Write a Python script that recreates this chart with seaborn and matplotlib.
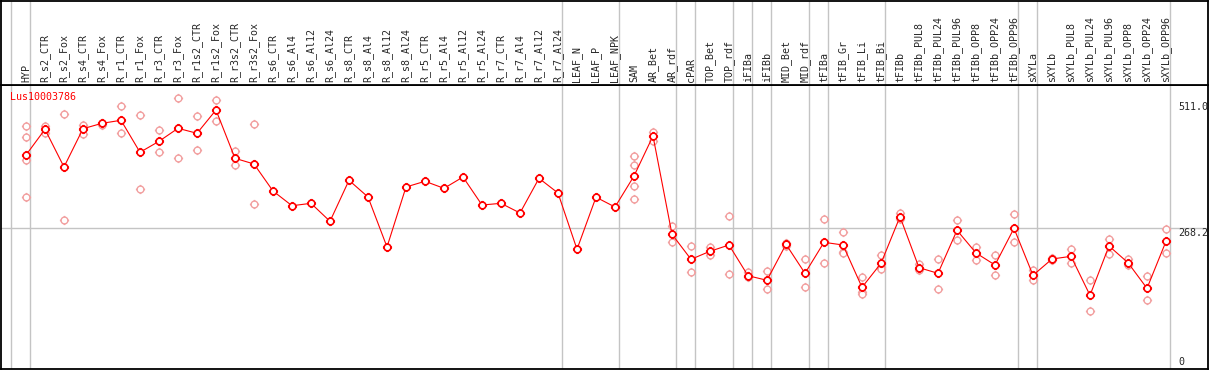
import numpy as np
import pandas as pd
import seaborn as sns
import matplotlib
matplotlib.use("Agg")
import matplotlib.pyplot as plt
from matplotlib.path import Path

gene = "Lus10003786"

categories = ["HYP", "R_s2_CTR", "R_s2_Fox", "R_s4_CTR", "R_s4_Fox", "R_r1_CTR", "R_r1_Fox",
              "R_r3_CTR", "R_r3_Fox", "R_r1s2_CTR", "R_r1s2_Fox", "R_r3s2_CTR", "R_r3s2_Fox",
              "R_s6_CTR", "R_s6_Al4", "R_s6_Al12", "R_s6_Al24", "R_s8_CTR", "R_s8_Al4",
              "R_s8_Al12", "R_s8_Al24", "R_r5_CTR", "R_r5_Al4", "R_r5_Al12", "R_r5_Al24",
              "R_r7_CTR", "R_r7_Al4", "R_r7_Al12", "R_r7_Al24", "LEAF_N", "LEAF_P", "LEAF_NPK",
              "SAM", "AR_Bet", "AR_rdf", "cPAR", "TOP_Bet", "TOP_rdf", "iFIBa", "iFIBb",
              "MID_Bet", "MID_rdf", "tFIBa", "tFIB_Gr", "tFIB_Li", "tFIB_Bi", "tFIBb",
              "tFIBb_PUL8", "tFIBb_PUL24", "tFIBb_PUL96", "tFIBb_OPP8", "tFIBb_OPP24",
              "tFIBb_OPP96", "sXYLa", "sXYLb", "sXYLb_PUL8", "sXYLb_PUL24", "sXYLb_PUL96",
              "sXYLb_OPP8", "sXYLb_OPP24", "sXYLb_OPP96"]

# sizes of the tissue groups (separated by grey lines)
group_sizes = [1, 28, 3, 3, 1, 2, 1, 1, 2, 1, 3, 7, 1, 7]

means = [415.2, 466.8, 391.2, 468.0, 478.8, 484.9, 420.7, 442.7, 468.8, 458.8, 505.5, 408.6, 397.2,
         343.0, 313.5, 318.3, 282.2, 364.5, 331.0, 230.7, 351.1, 362.5, 348.4, 371.1, 314.9,
         318.3, 298.9, 368.5, 339.0, 226.1, 330.6, 310.9,
         373.1, 453.4, 256.2, 206.0, 222.1, 234.7, 173.1, 163.9, 236.1, 177.9, 240.1,
         234.7, 149.8, 198.0, 291.5, 189.2, 177.9, 264.2, 218.7, 194.6, 268.2,
         173.9, 206.6, 212.0, 133.8, 232.7, 199.2, 147.8, 242.1]

replicates = [
    [473.4, 451.4, 404.6, 331.0], [473.4, 460.2], [496.9, 284.3], [476.0, 458.0], [480.0, 475.4],
    [513.5, 459.4], [494.9, 346.4], [464.8, 420.7], [529.0, 408.6], [492.9, 425.3],
    [525.6, 482.8], [423.3, 394.6], [476.8, 316.3],
    [], [], [], [], [], [], [], [], [], [], [], [], [], [], [], [], [], [], [],
    [413.2, 394.6, 353.7, 327.6], [461.4, 443.9], [272.8, 240.1], [232.7, 179.9],
    [231.3, 215.2], [292.9, 175.9], [179.9, 169.9], [182.5, 145.8], [238.1, 233.3],
    [206.0, 151.1], [286.3, 198.0], [260.2, 221.3, 218.1], [169.9, 141.0, 136.4],
    [214.0, 190.0, 186.0], [299.5, 285.9], [196.6, 184.6], [207.2, 145.8], [284.3, 244.1],
    [230.7, 205.2], [214.0, 174.5], [296.9, 240.1], [184.6, 164.5], [208.0, 204.6],
    [226.1, 199.2], [163.9, 102.3], [246.7, 217.3], [207.2, 194.6], [172.5, 123.8],
    [266.2, 218.1]]

max_value = 511.0
ref_value = 268.2

pos = np.arange(len(categories))
rep_df = pd.DataFrame([(i, v) for i, vals in enumerate(replicates) for v in vals],
                      columns=["pos", "value"])

sns.set_style("white")
plt.rcParams["font.family"] = ["DejaVu Sans Mono"]

# circle with four little ticks, like the original plot
ticks = []
for dx, dy in [(1, 0), (-1, 0), (0, 1), (0, -1)]:
    ticks.append(Path([[dx, dy], [1.35 * dx, 1.35 * dy]], [Path.MOVETO, Path.LINETO]))
tick_marker = Path.make_compound_path(Path.unit_circle(), *ticks)

W, H = 1209, 370
fig = plt.figure(figsize=(W / 100, H / 100), dpi=100)
ax = fig.add_axes([1 / W, 1 / H, 1207 / W, 284 / H])
hdr = fig.add_axes([1 / W, 285 / H, 1207 / W, 84 / H])

xlim = ((1 - 26) / 19, (1208 - 26) / 19)
grey = "#c4c4c4"
breaks = np.concatenate([[-1], np.cumsum(group_sizes) - 1]) + 4 / 19

for a in (ax, hdr):
    a.set_xlim(*xlim)
    for b in breaks:
        a.axvline(b, color=grey, lw=1, zorder=0)
    a.set_xticks([])
    a.set_yticks([])
    for s in a.spines.values():
        s.set_color("black")
        s.set_linewidth(1.3)

ax.set_ylim((362 - 369) / 0.4985, (362 - 85) / 0.4985)
hdr.set_ylim(0, 1)
ax.axhline(ref_value, color=grey, lw=1, zorder=0)

sns.scatterplot(data=rep_df, x="pos", y="value", marker=tick_marker, s=44,
                facecolor="white", edgecolor="#f2a0a0", linewidth=1.0, ax=ax, zorder=2)
sns.lineplot(x=pos, y=means, color="red", lw=0.8, sort=False, estimator=None,
             marker=tick_marker, markersize=6.6, markeredgewidth=1.2,
             markerfacecolor="white", markeredgecolor="red", ax=ax, zorder=3)
ax.set_xlabel("")
ax.set_ylabel("")

for i, name in enumerate(categories):
    hdr.text(i, 2.5 / 84, name, rotation=90, ha="center", va="bottom", fontsize=7.2)

ax.text(9 / 1207, (369 - 97) / 284, gene, transform=ax.transAxes, color="red",
        fontsize=7.2, ha="left", va="center")

lab_x = (1178 - 26) / 19
ax.text(lab_x, max_value, f"{max_value:.1f}", fontsize=7.2, ha="left", va="center")
ax.text(lab_x, ref_value, f"{ref_value:.1f}", fontsize=7.2, ha="left", va="top")
ax.text(lab_x, 0, "0", fontsize=7.2, ha="left", va="center")

fig.savefig("out.png", dpi=100)
